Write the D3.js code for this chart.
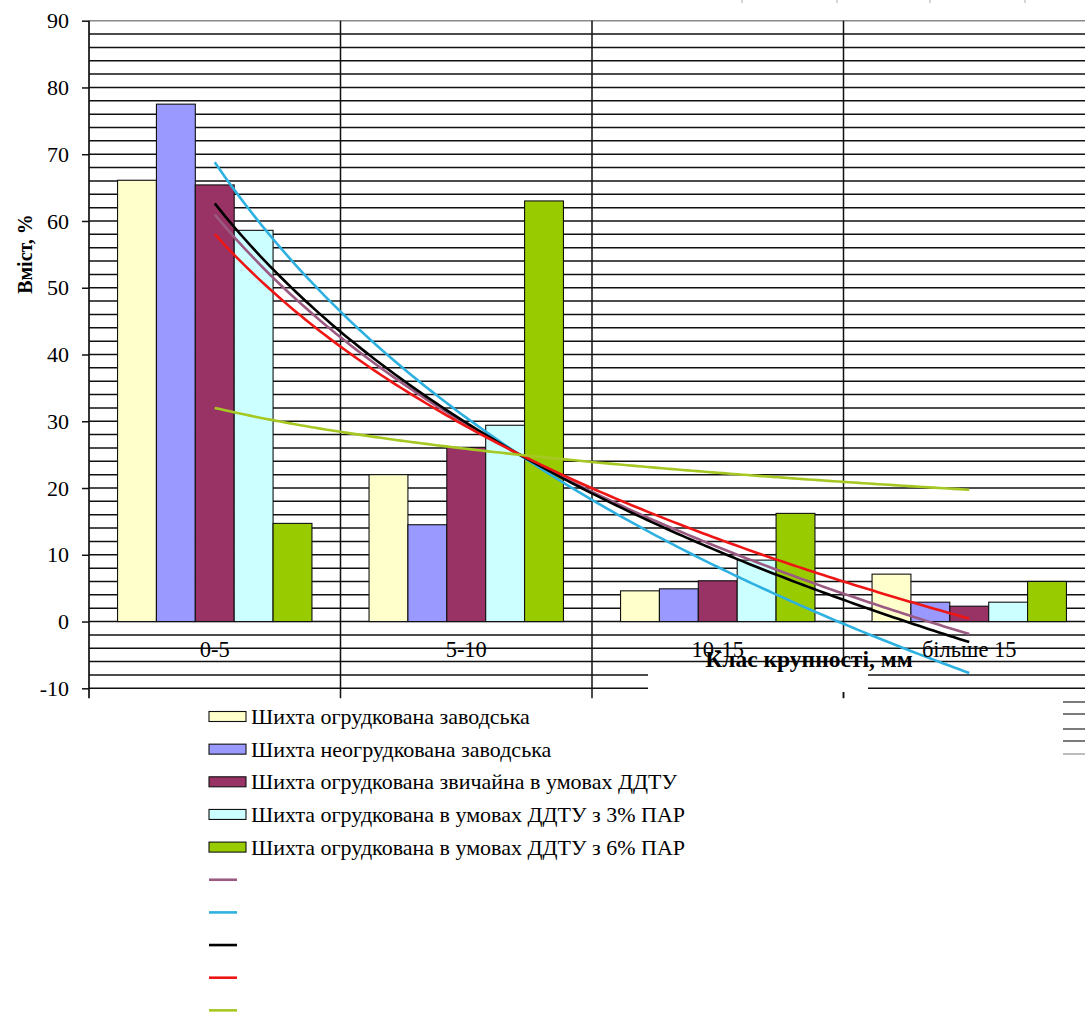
<!DOCTYPE html>
<html>
<head>
<meta charset="utf-8">
<script src="https://cdn.jsdelivr.net/npm/d3@7"></script>
<style>
  html, body { margin: 0; padding: 0; background: #fff; }
  svg { display: block; }
  text { font-family: "Liberation Serif", "Times New Roman", "DejaVu Serif", serif; fill: #000; }
</style>
</head>
<body>
<svg id="chart" width="1085" height="1016"></svg>
<script>
// Size classes of the charge (category axis)
const categories = ["0-5", "5-10", "10-15", "більше 15"];

// Content of each size class, %
const seriesNames = [
  "Шихта огрудкована заводська",
  "Шихта неогрудкована заводська",
  "Шихта огрудкована звичайна в умовах ДДТУ",
  "Шихта огрудкована в умовах ДДТУ з 3% ПАР",
  "Шихта огрудкована в умовах ДДТУ з 6% ПАР"
];
const ogrudZavodska   = [66.1, 22.0, 4.6, 7.1];
const neogrudZavodska = [77.5, 14.5, 4.9, 2.9];
const ogrudZvychaina  = [65.4, 26.1, 6.1, 2.3];
const ogrudPar3       = [58.6, 29.4, 9.2, 2.9];
const ogrudPar6       = [14.7, 63.0, 16.2, 6.0];
const seriesValues = [ogrudZavodska, neogrudZavodska, ogrudZvychaina, ogrudPar3, ogrudPar6];

const barColors   = ["#FFFFCC", "#9999FF", "#993366", "#CCFFFF", "#99CC00"];
const trendColors = ["#9B5A82", "#2EB0E0", "#000000", "#EE1515", "#A6C823"];

const yTicks = [-10, 0, 10, 20, 30, 40, 50, 60, 70, 80, 90];

const serif = '"Liberation Serif", "Times New Roman", "DejaVu Serif", serif';
const svg = d3.select("#chart");

// Plot geometry
const plotLeft = 89, plotRight = 1095, plotTop = 20.7, plotBottom = 688.3;

const x = d3.scaleBand().domain(categories).range([plotLeft, plotRight]).padding(0);
const xs = d3.scaleBand().domain(d3.range(seriesNames.length))
  .range([x.bandwidth() * 0.1135, x.bandwidth() * 0.8865]).padding(0);
const y = d3.scaleLinear().domain([-10, 90]).range([plotBottom, plotTop]);

// Horizontal gridlines every 2 units
const grid = svg.append("g");
const minorVals = d3.range(-10, 90, 2);
grid.selectAll("line.h").data(minorVals).join("line")
  .attr("x1", plotLeft).attr("x2", 1085)
  .attr("y1", d => y(d)).attr("y2", d => y(d))
  .attr("stroke", "#111").attr("stroke-width", 1.5);
// top border of the plot area
grid.append("line")
  .attr("x1", plotLeft).attr("x2", 1085)
  .attr("y1", y(90)).attr("y2", y(90))
  .attr("stroke", "#8a8a8a").attr("stroke-width", 1.5);

// Vertical gridlines at category boundaries
const bounds = categories.slice(1).map(c => x(c));
grid.selectAll("line.v").data(bounds).join("line")
  .attr("x1", d => d).attr("x2", d => d)
  .attr("y1", plotTop).attr("y2", plotBottom + 10)
  .attr("stroke", "#111").attr("stroke-width", 1.5);

// Value axis
const yAxis = svg.append("g").attr("transform", `translate(${plotLeft},0)`)
  .call(d3.axisLeft(y).tickValues(yTicks).tickSize(7).tickPadding(13).tickFormat(d => String(d)));
yAxis.select(".domain").remove();
yAxis.selectAll(".tick line").attr("stroke", "#111").attr("stroke-width", 1.5);
yAxis.selectAll(".tick text").style("font-family", serif).style("font-size", "22px").attr("fill", "#000");
svg.append("line")
  .attr("x1", plotLeft).attr("x2", plotLeft)
  .attr("y1", plotTop).attr("y2", plotBottom + 10)
  .attr("stroke", "#111").attr("stroke-width", 1.7);

// Bars
const groups = svg.append("g").selectAll("g").data(categories).join("g")
  .attr("transform", d => `translate(${x(d)},0)`);
groups.selectAll("rect")
  .data((c, ci) => seriesValues.map((vals, si) => ({ si, v: vals[ci] })))
  .join("rect")
  .attr("x", d => xs(d.si))
  .attr("width", xs.bandwidth())
  .attr("y", d => y(Math.max(0, d.v)))
  .attr("height", d => Math.abs(y(d.v) - y(0)))
  .attr("fill", d => barColors[d.si])
  .attr("stroke", "#111").attr("stroke-width", 1.1);

// Logarithmic trendlines (least-squares fit of y = a·ln(x) + b over category index 1..4)
function logFit(vals) {
  const lx = vals.map((_, i) => Math.log(i + 1));
  const mx = d3.mean(lx), my = d3.mean(vals);
  const a = d3.sum(lx, (l, i) => (l - mx) * (vals[i] - my)) / d3.sum(lx, l => (l - mx) ** 2);
  return t => a * Math.log(t) + (my - a * mx);
}
const xIdx = d3.scaleLinear().domain([1, categories.length])
  .range([x(categories[0]) + x.bandwidth() / 2, x(categories[categories.length - 1]) + x.bandwidth() / 2]);
const tSamples = d3.range(1, 4.0001, 0.02);
const line = d3.line().x(d => xIdx(d[0])).y(d => y(d[1])).curve(d3.curveLinear);
svg.append("g").selectAll("path").data(seriesValues).join("path")
  .attr("d", vals => { const f = logFit(vals); return line(tSamples.map(t => [t, f(t)])); })
  .attr("fill", "none")
  .attr("stroke", (d, i) => trendColors[i])
  .attr("stroke-width", 2.6);

// Category labels
svg.append("g").selectAll("text").data(categories).join("text")
  .attr("x", d => x(d) + x.bandwidth() / 2)
  .attr("y", 657)
  .attr("text-anchor", "middle")
  .style("font-size", "22.5px")
  .text(d => d);

// Axis title area
svg.append("rect").attr("x", 648).attr("y", 666).attr("width", 220).attr("height", 26).attr("fill", "#fff");
svg.append("line").attr("x1", x(categories[3])).attr("x2", x(categories[3]))
  .attr("y1", 692).attr("y2", 698).attr("stroke", "#111").attr("stroke-width", 1.5);
svg.append("text")
  .attr("x", 809).attr("y", 667)
  .attr("text-anchor", "middle")
  .style("font-size", "23.5px").style("font-weight", "bold")
  .text("Клас крупності, мм");

svg.append("text")
  .attr("transform", "translate(32,254) rotate(-90)")
  .attr("text-anchor", "middle")
  .style("font-size", "20px").style("font-weight", "bold")
  .text("Вміст, %");

// Legend
const legend = svg.append("g");
const rowY = i => 716.5 + i * 32.65;
const barRows = legend.selectAll("g.bar").data(seriesNames).join("g")
  .attr("transform", (d, i) => `translate(209,${rowY(i)})`);
barRows.append("rect").attr("x", 0).attr("y", -5).attr("width", 37).attr("height", 10)
  .attr("fill", (d, i) => barColors[i]).attr("stroke", "#111").attr("stroke-width", 1.1);
barRows.append("text").attr("x", 42).attr("y", 7.5).style("font-size", "22px").text(d => d);
legend.selectAll("line.tr").data(trendColors).join("line")
  .attr("x1", 209).attr("x2", 237)
  .attr("y1", (d, i) => rowY(i + 5)).attr("y2", (d, i) => rowY(i + 5))
  .attr("stroke", d => d).attr("stroke-width", 2.6);

// Fragments of a neighbouring legend at the right edge
const fragY = [702, 714, 729, 741, 754];
svg.append("g").selectAll("line").data(fragY).join("line")
  .attr("x1", 1063).attr("x2", 1085).attr("y1", d => d).attr("y2", d => d)
  .attr("stroke", (d, i) => i === fragY.length - 1 ? "#999" : "#333").attr("stroke-width", 1.3);

// Small marks along the top edge
const topMarks = [742, 837, 930, 1025];
svg.append("g").selectAll("line").data(topMarks).join("line")
  .attr("x1", d => d).attr("x2", d => d).attr("y1", 0).attr("y2", 3)
  .attr("stroke", "#bbb").attr("stroke-width", 1.2);
</script>
</body>
</html>
